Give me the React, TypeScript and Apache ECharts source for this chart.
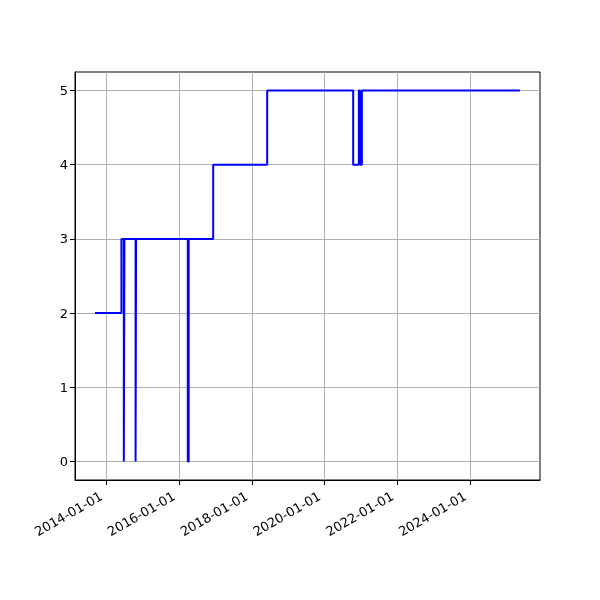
import React, { useEffect, useRef } from "react";
import * as echarts from "echarts";

const changeDates = [
  "2013-09-09", "2014-06-01", "2014-06-25", "2014-07-01", "2014-10-21", "2014-10-26",
  "2016-03-28", "2016-04-06", "2016-12-08", "2018-06-03", "2020-10-13", "2020-12-09",
  "2020-12-22", "2021-01-08", "2025-05-13",
];
const levels = [2, 3, 0, 3, 0, 3, 0, 3, 4, 5, 4, 5, 4, 5, 5];
const xTickLabels = ["2014-01-01", "2016-01-01", "2018-01-01", "2020-01-01", "2022-01-01", "2024-01-01"];
const yTicks = [0, 1, 2, 3, 4, 5];

const ts = (d: string) => Date.parse(d + "T00:00:00Z");

export default function App() {
  const ref = useRef<HTMLDivElement>(null);
  useEffect(() => {
    if (!ref.current) return;
    const chart = echarts.init(ref.current, null, { renderer: "svg" });
    const xTicks = xTickLabels.map(ts);
    const font = "DejaVu Sans";
    chart.setOption({
      animation: false,
      grid: {
        left: 75, right: 60, top: 72, bottom: 120,
        show: true, borderColor: "#000", borderWidth: 1, backgroundColor: "transparent",
      },
      xAxis: {
        type: "value",
        min: ts("2013-02-20"),
        max: ts("2025-12-01"),
        axisLine: { show: true, onZero: false, lineStyle: { color: "#000", width: 1 } },
        axisTick: { show: true, customValues: xTicks, length: 5, lineStyle: { color: "#000" } },
        axisLabel: {
          customValues: xTicks,
          rotate: 30,
          color: "#000",
          fontFamily: font,
          fontSize: 13,
          margin: 12,
          padding: [0, 6, 0, 0],
          formatter: (v: number) => {
            const d = new Date(v);
            const p = (n: number) => String(n).padStart(2, "0");
            return `${d.getUTCFullYear()}-${p(d.getUTCMonth() + 1)}-${p(d.getUTCDate())}`;
          },
        },
        splitLine: { show: true, lineStyle: { color: "#b0b0b0", width: 1 } },
      },
      yAxis: {
        type: "value",
        min: -0.25,
        max: 5.25,
        axisLine: { show: true, onZero: false, lineStyle: { color: "#000", width: 1 } },
        axisTick: { show: true, customValues: yTicks, length: 5, lineStyle: { color: "#000" } },
        axisLabel: { customValues: yTicks, color: "#000", fontFamily: font, fontSize: 13, margin: 7 },
        splitLine: { show: true, lineStyle: { color: "#b0b0b0", width: 1 } },
      },
      series: [
        {
          type: "line",
          step: "end",
          showSymbol: false,
          symbol: "none",
          data: changeDates.map((d, i) => [ts(d), levels[i]]),
          lineStyle: { color: "#0000ff", width: 2 },
        },
      ],
    });
    return () => chart.dispose();
  }, []);
  return <div ref={ref} style={{ position: "fixed", left: 0, top: 0, width: 600, height: 600 }} />;
}
